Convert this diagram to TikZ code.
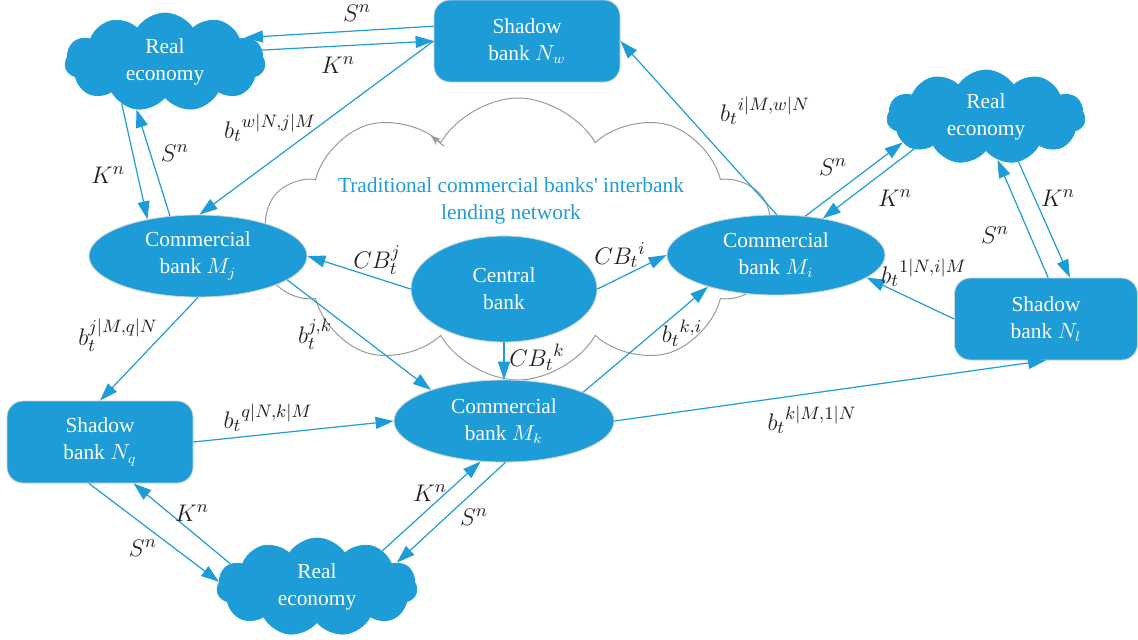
\documentclass[tikz,border=0pt]{standalone}
\usepackage{fontspec}
\setmainfont{Liberation Serif}
\usetikzlibrary{arrows.meta,shapes.geometric,shapes.symbols}
\definecolor{bankBlue}{HTML}{1E9CD7}
\definecolor{bankEdge}{HTML}{C9D4DB}
\definecolor{netGray}{HTML}{9A9A9A}
\definecolor{labelInk}{HTML}{231F20}

\begin{document}
\begin{tikzpicture}[x=.5pt,y=-.5pt,
  txt/.style={text=white,align=center,inner sep=0pt,font=\fontsize{10.7}{13.5}\selectfont},
  bank/.style={ellipse,fill=bankBlue,draw=bankEdge,line width=.4pt,txt},
  shadowbank/.style={rectangle,rounded corners=8pt,fill=bankBlue,draw=bankEdge,line width=.4pt,
    minimum width=93pt,minimum height=41pt,txt},
  economy/.style={cloud,cloud puffs=11,cloud puff arc=115,cloud ignores aspect,
    fill=bankBlue,draw=bankBlue,minimum width=100pt,minimum height=49pt,txt},
  flow/.style={draw=bankBlue,line width=.6pt,-{Triangle[length=9pt,width=6pt]}},
  lab/.style={text=labelInk,inner sep=0pt,font=\fontsize{12.5}{14}\selectfont}]
  \useasboundingbox (0,0) rectangle (1138,639);

  % interbank cloud behind the banks
  \node[cloud,cloud puffs=10,cloud puff arc=120,cloud ignores aspect,draw=netGray,line width=.5pt,
    minimum width=256pt,minimum height=141pt] (net) at (518,239) {};
  \coordinate (tailA) at (444,146);
  \coordinate (tipA) at (431,136);
  \draw[netGray,line width=.5pt,-{Stealth[length=5pt,width=4pt]}] (tailA) -- (tipA);
  \node[txt,text=bankBlue] (nettitle) at (511,201)
    {Traditional commercial banks\textquotesingle{} interbank\\lending network};

  % banks and real economy
  \node[economy] (rl) at (165,62) {Real\\economy};
  \node[economy,minimum width=99pt,minimum height=47pt] (rr) at (986,117) {Real\\economy};
  \node[economy] (rb) at (317,587) {Real\\economy};
  \node[shadowbank] (nw) at (527,41) {Shadow\\bank $N_w$};
  \node[shadowbank,minimum width=91.5pt] (nl) at (1046,319) {Shadow\\bank $N_l$};
  \node[shadowbank] (nq) at (100,442) {Shadow\\bank $N_q$};
  \node[bank,minimum width=109pt,minimum height=41pt] (mj) at (198,256) {Commercial\\bank $M_j$};
  \node[bank,minimum width=109pt,minimum height=40pt] (mi) at (776,255) {Commercial\\bank $M_i$};
  \node[bank,minimum width=110pt,minimum height=41pt] (mk) at (504,421) {Commercial\\bank $M_k$};
  \node[bank,minimum width=93pt,minimum height=53pt] (cb) at (504,289) {Central\\bank};

  % flows
  \foreach \a/\b in {nw.171/rl.17, rl.7/nw.west, nw.west/mj.88, rl.-136/mj.144, mj.125/rl.-121,
      mi.89/nw.east, mi.53/rr.197, rr.204/mi.38, rr.-54/nl.60, nl.87/rr.-75, nl.west/mi.-14,
      cb.west/mj.east, cb.east/mi.west, cb.south/mk.north, mj.-15/mk.157, mk.20/mi.205,
      mj.south/nq.north, nq.east/mk.west, mk.east/nl.south, nq.-105/rb.177, rb.165/nq.-51,
      rb.29/mk.240, mk.-88/rb.17}
    \draw[flow] (\a) -- (\b);

  % labels
  \foreach \n/\x/\y/\t in {ls1/357/13/{$S^n$}, lk1/338/65/{$K^n$}, lb1/270/128/{${b_t}^{w|N,j|M}$},
      lk2/108/175/{$K^n$}, ls2/175/153/{$S^n$}, lb2/765/111/{${b_t}^{i|M,w|N}$},
      ls3/833/167/{$S^n$}, lk3/895/198/{$K^n$}, ls4/995/235/{$S^n$}, lk4/1058/198/{$K^n$},
      lb3/924/273/{${b_t}^{1|N,i|M}$}, lc1/377/260/{$CB_t^j$}, lc2/620/255/{${CB_t}^i$},
      lc3/537/357/{${CB_t}^k$}, lb4/315/334/{$b_t^{j,k}$}, lb5/682/333/{${b_t}^{k,i}$},
      lb6/118/335/{$b_t^{j|M,q|N}$}, lb7/268/418/{${b_t}^{q|N,k|M}$}, lb8/812/420/{${b_t}^{k|M,1|N}$},
      ls5/143/548/{$S^n$}, lk5/192/513/{$K^n$}, lk6/430/493/{$K^n$}, ls6/474/517/{$S^n$}}
    \node[lab] (\n) at (\x,\y) {\t};
\end{tikzpicture}
\end{document}
